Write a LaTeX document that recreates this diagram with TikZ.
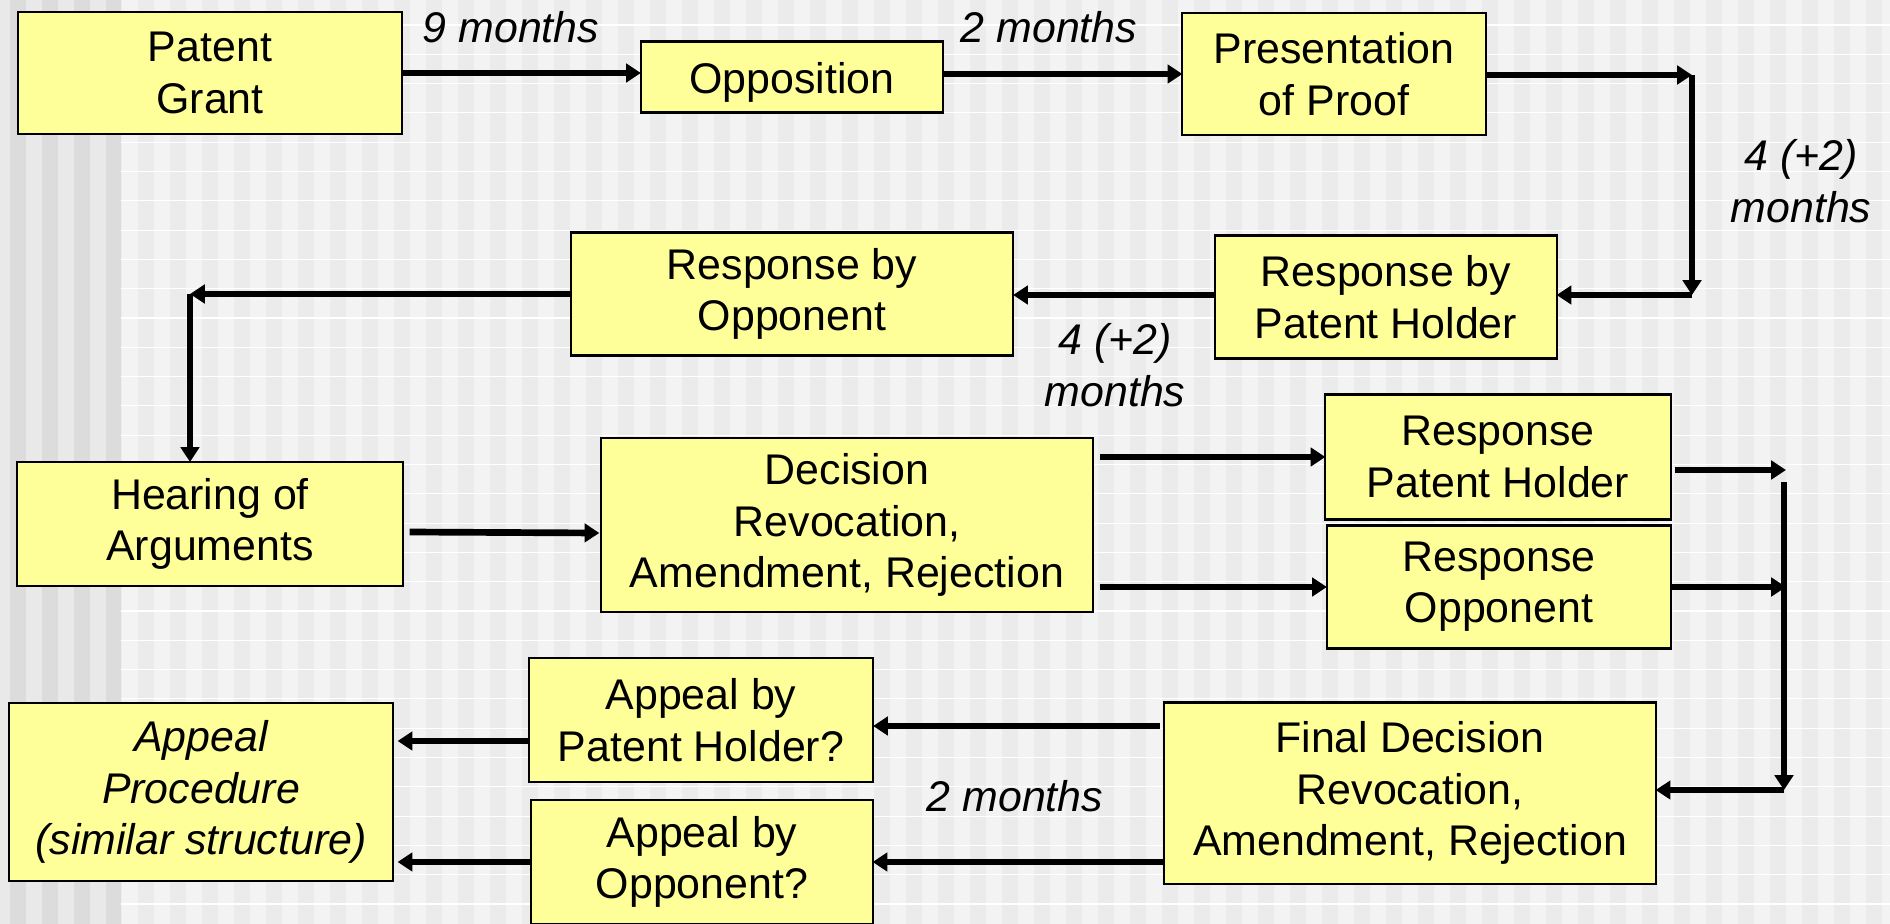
\documentclass[tikz,border=0pt]{standalone}
\usepackage{fontspec}
\setmainfont{Liberation Sans}
\usetikzlibrary{arrows.meta}

\definecolor{boxyellow}{HTML}{FFFF99}
\definecolor{bgbase}{HTML}{F3F3F3}
\definecolor{bgstripe}{HTML}{EBEBEB}
\definecolor{bandlight}{HTML}{E9E9E9}
\definecolor{banddark}{HTML}{DCDCDC}

\tikzset{
	stage/.style={draw=black,line width=0.6pt,fill=boxyellow,align=center,inner sep=0pt,outer sep=0pt,
		execute at begin node={\rule{0pt}{12pt}}},
	flow/.style={line width=1.9pt,-{Triangle[length=4.2pt,width=5.2pt]}},
	span/.style={font=\fontsize{12.2}{14.6}\selectfont\itshape,align=center}
}

\begin{document}
\begin{tikzpicture}[x=0.01cm,y=-0.01cm,every node/.append style={font=\fontsize{12.2}{14.6}\selectfont}]
			\useasboundingbox (0,0) rectangle (1890,924);
			% background
			\fill[bgbase] (0,0) rectangle (1890,924);
			\foreach \x in {10,42,...,1890} \fill[bgstripe] (\x,0) rectangle ++(16,924);
			\foreach \y in {25,54.3,...,924} \draw[white,line width=0.3pt] (121,\y) -- (1890,\y);
			\fill[bandlight] (0,0) rectangle (121,924);
			\foreach \x in {10,42,74} \fill[banddark] (\x,0) rectangle ++(16,924);
			\fill[banddark] (106,0) rectangle (121,924);

			\node[stage,minimum width=3.83cm,minimum height=1.22cm] (pg) at (210,73) {Patent\\Grant};
			\node[stage,minimum width=3.02cm,minimum height=0.71cm] (opp) at (792,77) {Opposition};
			\node[stage,minimum width=3.03cm,minimum height=1.22cm] (pop) at (1334,74) {Presentation\\of Proof};
			\node[stage,minimum width=3.41cm,minimum height=1.23cm] (rph) at (1386,297) {Response by\\Patent Holder};
			\node[stage,minimum width=4.42cm,minimum height=1.23cm] (ro) at (792,294) {Response by\\Opponent};
			\node[stage,minimum width=3.85cm,minimum height=1.24cm] (hoa) at (210,524) {Hearing of\\Arguments};
			\node[stage,minimum width=4.91cm,minimum height=1.74cm] (dec) at (847,525) {Decision\\Revocation,\\Amendment, Rejection};
			\node[stage,minimum width=3.45cm,minimum height=1.25cm] (rph2) at (1498,457) {Response\\Patent Holder};
			\node[stage,minimum width=3.44cm,minimum height=1.23cm] (ro2) at (1499,587) {Response\\Opponent};
			\node[stage,minimum width=4.91cm,minimum height=1.81cm] (fd) at (1410,793) {Final Decision\\Revocation,\\Amendment, Rejection};
			\node[stage,minimum width=3.44cm,minimum height=1.24cm] (aph) at (701,720) {Appeal by\\Patent Holder?};
			\node[stage,minimum width=3.41cm,minimum height=1.24cm] (ao) at (702,862) {Appeal by\\Opponent?};
			\node[stage,minimum width=3.83cm,minimum height=1.78cm,font=\fontsize{12.2}{14.6}\selectfont\itshape] (ap) at (201,792) {Appeal\\Procedure\\(similar structure)};

			\coordinate (c1) at (1692,75);
			\coordinate (c2) at (1692,295);
			\coordinate (c3) at (190,294);
			\coordinate (j1) at (1786,470);
			\coordinate (j2) at (1786,587);
			\coordinate (j3) at (1784,482);
			\coordinate (j4) at (1784,790);

			\draw[flow] (pg.east) -- (pg.east -| opp.west);
			\node[span] (t9) at (511,27) {9 months};
			\draw[flow] (opp.east |- pop.west) -- (pop.west);
			\node[span] (t2a) at (1049,27) {2 months};
			\draw[flow] (pop.east |- c1) -- (c1);
			\draw[flow] (c1) -- (c2);
			\draw[flow] (c2) -- (c2 -| rph.east);
			\node[span] (t4a) at (1801,181) {4 (+2)\\months};
			\draw[flow] (rph.west |- c2) -- (c2 -| ro.east);
			\node[span] (t4b) at (1115,365) {4 (+2)\\months};
			\draw[flow] (ro.west |- c3) -- (c3);
			\draw[flow] (c3) -- (c3 |- hoa.north);
			\draw[flow] ([shift={(7,8)}]hoa.east) -- ([shift={(-2,8)}]dec.west);
			\draw[flow] ([shift={(7,0)}]dec.east |- rph2.west) -- (rph2.west);
			\draw[flow] ([shift={(7,0)}]dec.east |- ro2.west) -- (ro2.west);
			\draw[flow] ([shift={(4,0)}]rph2.east |- j1) -- (j1);
			\draw[flow] (ro2.east |- j2) -- (j2);
			\draw[flow] (j3) -- (j4);
			\draw[flow] (j4) -- (j4 -| fd.east);
			\draw[flow] ([shift={(-4,6)}]fd.west |- aph.east) -- ([shift={(0,6)}]aph.east);
			\draw[flow] (fd.west |- ao.east) -- (ao.east);
			\node[span] (t2b) at (1015,796) {2 months};
			\draw[flow] ([shift={(0,21)}]aph.west) -- ([shift={(5,21)}]aph.west -| ap.east);
			\draw[flow] (ao.west) -- ([shift={(5,0)}]ao.west -| ap.east);
		\end{tikzpicture}
\end{document}
